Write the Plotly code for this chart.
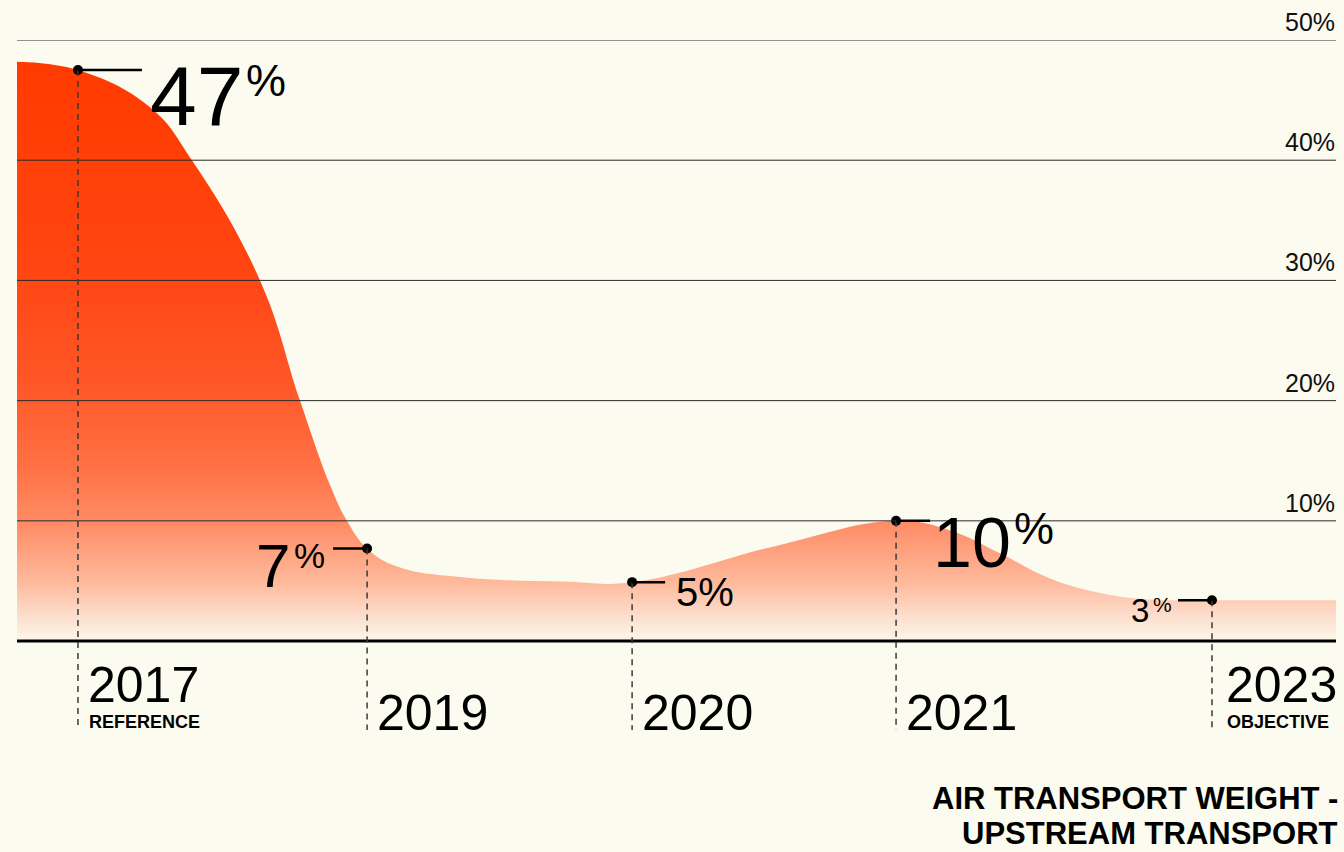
import plotly.graph_objects as go

# ---- data ----
years = ["2017", "2019", "2020", "2021", "2023"]
sub_labels = ["REFERENCE", "", "", "", "OBJECTIVE"]
x_pos = [0.0, 1.091, 2.091, 3.087, 4.279]          # position of each year on the axis
values = [47.5, 7.7, 4.9, 10.0, 3.4]               # share of air transport (%)
value_labels = ["47", "7", "5", "10", "3"]

# area outline
outline_pos = [-0.230, 0.0, 0.272, 0.430, 0.687, 0.838, 0.951, 1.015, 1.091,
               1.204, 1.453, 1.830, 2.091, 2.649, 3.087, 3.291, 3.479, 3.668,
               3.857, 4.045, 4.279, 4.747]
outline_val = [48.2, 47.5, 44.4, 40.0, 30.0, 20.0, 13.0, 10.0, 7.7,
               6.2, 5.3, 4.95, 4.9, 8.0, 10.0, 9.2, 7.3, 5.2,
               4.0, 3.45, 3.4, 3.4]

grid_vals = [10, 20, 30, 40, 50]
grid_labels = ["10%", "20%", "30%", "40%", "50%"]

BG = "#FBFBEF"
FONT = "Liberation Sans"

fig = go.Figure()

fig.add_trace(go.Scatter(
    x=outline_pos, y=outline_val, mode="lines",
    line=dict(width=0, shape="spline", smoothing=1.2),
    fill="tozeroy",
    fillgradient=dict(
        type="vertical", start=0, stop=48.2,
        colorscale=[[0.0, "#FCF7EB"], [0.05, "#FDDAC7"], [0.1, "#FEBA9C"],
                    [0.2, "#FF8D67"], [0.3, "#FF7145"], [0.45, "#FF5627"],
                    [0.65, "#FF4511"], [1.0, "#FF3A00"]]),
    hoverinfo="skip", showlegend=False,
))

shapes = []
for g in grid_vals:
    shapes.append(dict(type="line", xref="paper", x0=0, x1=1, yref="y", y0=g, y1=g,
                       line=dict(color="#2a2a2a", width=1), layer="above"))
shapes.append(dict(type="line", xref="paper", x0=0, x1=1, yref="y", y0=0, y1=0,
                   line=dict(color="#000000", width=3), layer="above"))

# dashed drop lines
for xp, v in zip(x_pos, values):
    shapes.append(dict(type="line", xref="x", yref="y", x0=xp, x1=xp, y0=v, y1=-7.4,
                       line=dict(color="#3a3a3a", width=1.5, dash="6px,5px"), layer="above"))

# short horizontal ticks next to points (pixel lengths)
tick_len = [64, -34, 33, 34, -34]
for xp, v, tl in zip(x_pos, values, tick_len):
    shapes.append(dict(type="line", xref="x", xsizemode="pixel", xanchor=xp,
                       x0=0, x1=tl, yref="y", y0=v, y1=v,
                       line=dict(color="#000000", width=2.5), layer="above"))

fig.add_trace(go.Scatter(
    x=x_pos, y=values, mode="markers",
    marker=dict(color="#000000", size=10),
    hoverinfo="skip", showlegend=False, cliponaxis=False,
))

ann = []
# grid labels
for g, gl in zip(grid_vals, grid_labels):
    ann.append(dict(xref="paper", x=1, yref="y", y=g, text=gl, showarrow=False,
                    xanchor="right", yanchor="bottom", yshift=2, xshift=1,
                    font=dict(family=FONT, size=25, color="#111")))

# value labels: (number size, num xshift, num yshift, pct size, pct xshift, pct yshift, sup)
lab_style = [
    (84, 70, -26, 45, 166, -10, True),
    (62, -113, -17, 35, -75, -7, True),
    (40, 42, -10, 40, None, None, False),
    (70, 35, -22, 45, 116, -8, True),
    (33, -83, -10, 21, -61, -4, True),
]
for xp, v, lab, st in zip(x_pos, values, value_labels, lab_style):
    ns, nx, ny, ps, px, py, sup = st
    if sup:
        ann.append(dict(xref="x", x=xp, yref="y", y=v, text=lab, showarrow=False,
                        xanchor="left", yanchor="middle", xshift=nx, yshift=ny,
                        font=dict(family=FONT, size=ns, color="#000")))
        ann.append(dict(xref="x", x=xp, yref="y", y=v, text="%", showarrow=False,
                        xanchor="left", yanchor="middle", xshift=px, yshift=py,
                        font=dict(family=FONT, size=ps, color="#000")))
    else:
        ann.append(dict(xref="x", x=xp, yref="y", y=v, text=lab + "%", showarrow=False,
                        xanchor="left", yanchor="middle", xshift=nx, yshift=ny,
                        font=dict(family=FONT, size=ns, color="#000")))

# year labels
for xp, yr, sl in zip(x_pos, years, sub_labels):
    ys = -44 if sl else -72
    xs = 8 if xp < 4 else 12
    ann.append(dict(xref="x", x=xp, yref="y", y=0, text=yr, showarrow=False,
                    xanchor="left", yanchor="middle", xshift=xs, yshift=ys,
                    font=dict(family=FONT, size=50, color="#000")))
    if sl:
        ann.append(dict(xref="x", x=xp, yref="y", y=0, text="<b>" + sl + "</b>", showarrow=False,
                        xanchor="left", yanchor="middle", xshift=xs + 1, yshift=-81,
                        font=dict(family=FONT, size=18, color="#000")))

# title
ann.append(dict(xref="paper", x=1, yref="paper", y=0, text="<b>AIR TRANSPORT WEIGHT -</b>",
                showarrow=False, xanchor="right", yanchor="middle", xshift=4, yshift=-68,
                font=dict(family=FONT, size=31, color="#000")))
ann.append(dict(xref="paper", x=1, yref="paper", y=0, text="<b>UPSTREAM TRANSPORT</b>",
                showarrow=False, xanchor="right", yanchor="middle", xshift=4, yshift=-103,
                font=dict(family=FONT, size=31, color="#000")))

fig.update_layout(
    width=1344, height=852,
    margin=dict(l=17, r=8, t=40, b=122),
    paper_bgcolor=BG, plot_bgcolor=BG,
    xaxis=dict(range=[-0.230, 4.747], visible=False, fixedrange=True),
    yaxis=dict(range=[-7.4, 50], visible=False, fixedrange=True),
    shapes=shapes, annotations=ann, showlegend=False,
)

fig.write_html(
    "out.html",
    config={"displayModeBar": False},
    post_script="document.body.style.margin='0';document.body.style.overflow='hidden';"
                "document.body.style.background='" + BG + "';",
)
